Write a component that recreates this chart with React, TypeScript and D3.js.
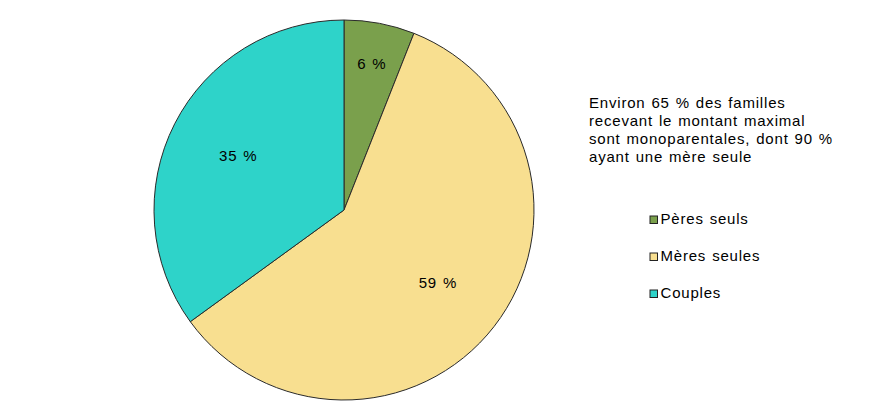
import React, { useEffect } from "react";
import * as d3 from "d3";

const categories = ["Pères seuls", "Mères seules", "Couples"];
const values = [6, 59, 35];
const colors = ["#7aa04c", "#f8df90", "#2ed3c9"];
const noteLines = [
  "Environ 65 % des familles",
  "recevant le montant maximal",
  "sont monoparentales, dont 90 %",
  "ayant une mère seule",
];

const W = 872;
const H = 420;
const cx = 344;
const cy = 210;
const R = 190;
const FONT = "Arial, 'Liberation Sans', sans-serif";
const TXT = { letterSpacing: "0.8px", wordSpacing: "1px" } as const;

export default function App() {
  useEffect(() => {
    document.body.style.margin = "0";
  }, []);

  const pie = d3
    .pie<number>()
    .sort(null)
    .value((d) => d)(values);
  const arc = d3.arc<d3.PieArcDatum<number>>().innerRadius(0).outerRadius(R);

  const labelPos = (d: d3.PieArcDatum<number>) => {
    const a = (d.startAngle + d.endAngle) / 2;
    const lr = d.value < 10 ? R * 0.78 : R * 0.625;
    return [Math.sin(a) * lr, -Math.cos(a) * lr];
  };

  return (
    <svg width={W} height={H} style={{ display: "block", background: "#fff" }}>
      <g transform={`translate(${cx},${cy})`}>
        {pie.map((d, i) => (
          <path
            key={categories[i]}
            d={arc(d) || ""}
            fill={colors[i]}
            stroke="#2a2a2a"
            strokeWidth={1}
          />
        ))}
        {pie.map((d, i) => {
          const [x, y] = labelPos(d);
          return (
            <text
              key={"l" + i}
              x={x}
              y={y + 5}
              textAnchor="middle"
              fontFamily={FONT}
              fontSize={15}
              style={TXT}
              fill="#000"
            >
              {`${values[i]} %`}
            </text>
          );
        })}
      </g>
      <g fontFamily={FONT} fontSize={15} fill="#000" style={TXT}>
        {noteLines.map((t, i) => (
          <text key={t} x={589} y={107.5 + i * 18.3}>
            {t}
          </text>
        ))}
      </g>
      <g fontFamily={FONT} fontSize={15}>
        {categories.map((c, i) => (
          <g key={c} transform={`translate(650,${223.5 + i * 37})`}>
            <rect x={0} y={-7.5} width={7.5} height={7.5} fill={colors[i]} stroke="#222" strokeWidth={1} />
            <text x={10.5} y={0} fill="#000" style={TXT}>
              {c}
            </text>
          </g>
        ))}
      </g>
    </svg>
  );
}
